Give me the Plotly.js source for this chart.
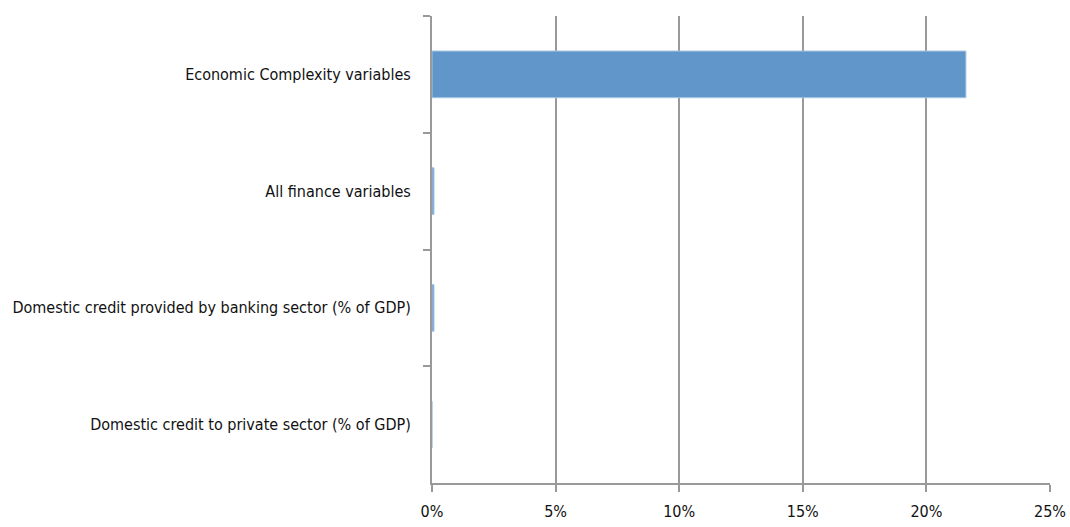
<!DOCTYPE html>
<html>
<head>
<meta charset="utf-8">
<script src="https://cdn.plot.ly/plotly-3.0.1.min.js"></script>
<style>
html,body{margin:0;padding:0;background:#fff;}
#chart{width:1070px;height:527px;}
#chart svg text{font-stretch:condensed !important;}
</style>
</head>
<body>
<div id="chart"></div>
<script>
const categories = [
  "Economic Complexity variables",
  "All finance variables",
  "Domestic credit provided by banking sector (% of GDP)",
  "Domestic credit to private sector (% of GDP)"
];
const values = [21.6, 0.08, 0.08, 0];
const xTickVals = [0, 5, 10, 15, 20, 25];
const xTickLabels = ["0%", "5%", "10%", "15%", "20%", "25%"];

const fontFam = '"DejaVu Sans Condensed", "DejaVu Sans", sans-serif';

Plotly.newPlot('chart', [{
  type: 'bar',
  orientation: 'h',
  y: categories,
  x: values,
  marker: {color: '#6096c9', line: {color: '#a9c6e3', width: 1}},
  hoverinfo: 'none'
}], {
  width: 1070, height: 527,
  margin: {l: 432, r: 20, t: 16, b: 44},
  paper_bgcolor: '#fff', plot_bgcolor: '#fff',
  bargap: 0.6,
  showlegend: false,
  font: {family: fontFam, size: 16, color: '#111'},
  xaxis: {
    range: [0, 25],
    tickmode: 'array',
    tickvals: xTickVals,
    ticktext: xTickLabels,
    ticklabeloverflow: 'allow',
    showgrid: true, gridcolor: '#999', gridwidth: 2,
    zeroline: false,
    showline: true, linecolor: '#999', linewidth: 2,
    ticks: 'outside', ticklen: 7, tickcolor: '#999', tickwidth: 2,
    tickfont: {family: fontFam, size: 16, color: '#111'},
    ticklabelstandoff: 6
  },
  yaxis: {
    type: 'category',
    autorange: 'reversed',
    showgrid: false, zeroline: false,
    showline: true, linecolor: '#999', linewidth: 2,
    ticks: 'outside', ticklen: 7, tickcolor: '#999', tickwidth: 2,
    tickson: 'boundaries',
    tickfont: {family: fontFam, size: 16, color: '#111'},
    ticklabelstandoff: 16
  }
}, {staticPlot: true});
</script>
</body>
</html>
